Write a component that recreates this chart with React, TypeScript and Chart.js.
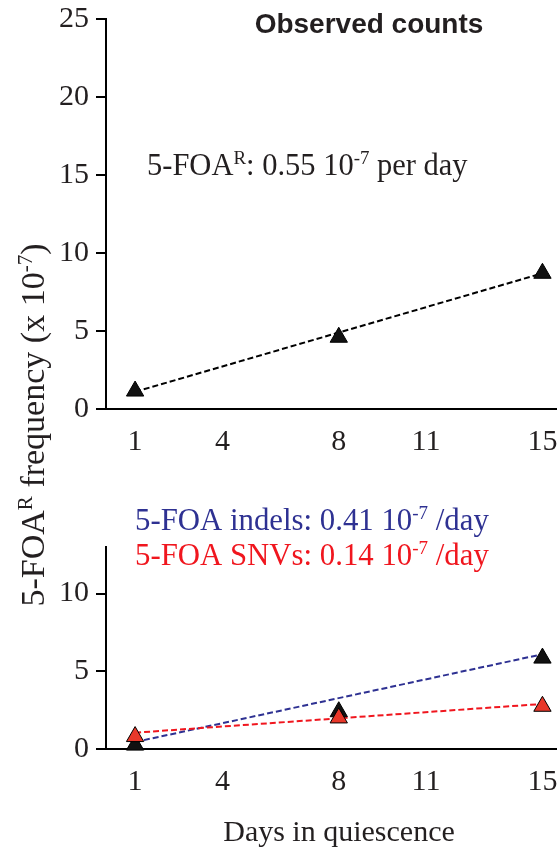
import React, { useEffect, useRef } from "react";
import { Chart, registerables } from "chart.js";

Chart.register(...registerables);

// ---- data ----
const days = [1, 8, 15];
const fitDays = [1, 15];
const xTickValues = [1, 4, 8, 11, 15];
const topYTickValues = [0, 5, 10, 15, 20, 25];
const bottomYTickValues = [0, 5, 10];

const observedCounts = [1.15, 4.6, 8.7];
const observedFit = [1.1, 8.7];

const indelCounts = [0.25, 2.4, 5.85];
const indelFit = [0.45, 6.1];
const snvCounts = [0.8, 2.0, 2.75];
const snvFit = [1.05, 2.9];

// ---- text ----
type Seg = { t: string; sup?: boolean };
const panelTitle = "Observed counts";
const observedRateLabel: Seg[] = [
  { t: "5-FOA" }, { t: "R", sup: true }, { t: ": 0.55 10" }, { t: "-7", sup: true }, { t: " per day" },
];
const indelRateLabel: Seg[] = [
  { t: "5-FOA indels: 0.41 10" }, { t: "-7", sup: true }, { t: " /day" },
];
const snvRateLabel: Seg[] = [
  { t: "5-FOA SNVs: 0.14 10" }, { t: "-7", sup: true }, { t: " /day" },
];
const yTitle: Seg[] = [
  { t: "5-FOA" }, { t: "R", sup: true }, { t: " frequency (x 10" }, { t: "-7", sup: true }, { t: ")" },
];
const xTitle = "Days in quiescence";

const SERIF = "'Liberation Serif', 'Times New Roman', serif";
const SANS = "'Liberation Sans', Arial, sans-serif";
const TEXT = "#231f20";
const NAVY = "#2e3192";
const RED = "#f0161e";
const RED_FILL = "#e8382a";

const W = 557;
const H = 849;

function measureRich(ctx: CanvasRenderingContext2D, segs: Seg[], size: number, family: string, weight = "normal") {
  let w = 0;
  for (const s of segs) {
    const fs = s.sup ? size * 0.62 : size;
    ctx.font = `${weight} ${fs}px ${family}`;
    w += ctx.measureText(s.t).width;
  }
  return w;
}

function drawRich(
  ctx: CanvasRenderingContext2D, segs: Seg[], x: number, y: number,
  size: number, family: string, color: string, weight = "normal"
) {
  ctx.save();
  ctx.fillStyle = color;
  ctx.textAlign = "left";
  ctx.textBaseline = "alphabetic";
  let cx = x;
  for (const s of segs) {
    const fs = s.sup ? size * 0.62 : size;
    ctx.font = `${weight} ${fs}px ${family}`;
    ctx.fillText(s.t, cx, s.sup ? y - size * 0.36 : y);
    cx += ctx.measureText(s.t).width;
  }
  ctx.restore();
}

const pts = (xs: number[], ys: number[]) => xs.map((x, i) => ({ x, y: ys[i] }));

function xScale(height: number) {
  return {
    type: "linear" as const,
    min: 0,
    max: 15.5,
    afterBuildTicks: (s: any) => { s.ticks = xTickValues.map((v) => ({ value: v })); },
    afterFit: (s: any) => { s.height = height; s.paddingLeft = 0; s.paddingRight = 0; },
    ticks: { font: { family: SERIF, size: 30 }, color: TEXT, padding: 15, maxRotation: 0, autoSkip: false },
    grid: { display: false, drawTicks: false },
    border: { display: true, color: "#000", width: 2 },
  };
}

function yScale(max: number, tickValues: number[]) {
  return {
    type: "linear" as const,
    min: 0,
    max,
    afterBuildTicks: (s: any) => { s.ticks = tickValues.map((v) => ({ value: v })); },
    afterFit: (s: any) => { s.width = 106; s.paddingTop = 0; s.paddingBottom = 0; },
    ticks: { font: { family: SERIF, size: 30 }, color: TEXT, padding: 7 },
    grid: { drawOnChartArea: false, drawTicks: true, tickLength: 10, color: "#000", lineWidth: 2 },
    border: { display: true, color: "#000", width: 2 },
  };
}

const triangle = (fill: string) => ({
  showLine: false,
  pointStyle: "triangle" as const,
  pointRadius: 10,
  pointBackgroundColor: fill,
  pointBorderColor: "#000",
  pointBorderWidth: 1,
  backgroundColor: fill,
  borderColor: "#000",
  clip: false as const,
});

const dashed = (color: string) => ({
  showLine: true,
  borderColor: color,
  borderWidth: 2,
  borderDash: [6, 3],
  pointRadius: 0,
  fill: false,
  clip: false as const,
});

export default function App() {
  const topRef = useRef<HTMLCanvasElement>(null);
  const botRef = useRef<HTMLCanvasElement>(null);

  useEffect(() => {
    document.body.style.margin = "0";
    const topChart = new Chart(topRef.current!, {
      type: "scatter",
      data: {
        datasets: [
          { data: pts(days, observedCounts), ...triangle("#111") },
          { data: pts(fitDays, observedFit), ...dashed("#000") },
        ],
      },
      options: {
        animation: false,
        responsive: false,
        devicePixelRatio: 1,
        events: [],
        layout: { autoPadding: false, padding: { top: 19, left: 0, right: 0, bottom: 0 } },
        plugins: { legend: { display: false }, tooltip: { enabled: false } },
        scales: { x: xScale(H - 409), y: yScale(25, topYTickValues) } as any,
      },
      plugins: [
        {
          id: "topText",
          afterDraw(chart: any) {
            const ctx = chart.ctx as CanvasRenderingContext2D;
            ctx.save();
            ctx.font = `bold 28px ${SANS}`;
            ctx.fillStyle = TEXT;
            ctx.textAlign = "center";
            ctx.textBaseline = "alphabetic";
            ctx.fillText(panelTitle, 369, 33);
            ctx.restore();
            drawRich(ctx, observedRateLabel, 147, 175, 30.5, SERIF, TEXT);
            // y title, rotated
            const size = 34;
            const w = measureRich(ctx, yTitle, size, SERIF);
            ctx.save();
            ctx.translate(44, 425);
            ctx.rotate(-Math.PI / 2);
            drawRich(ctx, yTitle, -w / 2, 0, size, SERIF, TEXT);
            ctx.restore();
          },
        },
      ],
    });

    const botChart = new Chart(botRef.current!, {
      type: "scatter",
      data: {
        datasets: [
          { data: pts(days, snvCounts), ...triangle(RED_FILL) },
          { data: pts(days, indelCounts), ...triangle("#111") },
          { data: pts(fitDays, snvFit), ...dashed(RED) },
          { data: pts(fitDays, indelFit), ...dashed(NAVY) },
        ],
      },
      options: {
        animation: false,
        responsive: false,
        devicePixelRatio: 1,
        events: [],
        layout: { autoPadding: false, padding: { top: 547, left: 0, right: 0, bottom: 0 } },
        plugins: { legend: { display: false }, tooltip: { enabled: false } },
        scales: { x: xScale(H - 749), y: yScale(13, bottomYTickValues) } as any,
      },
      plugins: [
        {
          id: "botText",
          afterDraw(chart: any) {
            const ctx = chart.ctx as CanvasRenderingContext2D;
            drawRich(ctx, indelRateLabel, 135, 530, 30.8, SERIF, NAVY);
            drawRich(ctx, snvRateLabel, 135, 565, 30.8, SERIF, RED);
            ctx.save();
            ctx.font = `30px ${SERIF}`;
            ctx.fillStyle = TEXT;
            ctx.textAlign = "center";
            ctx.textBaseline = "alphabetic";
            ctx.fillText(xTitle, 339, 841);
            ctx.restore();
          },
        },
      ],
    });

    return () => {
      topChart.destroy();
      botChart.destroy();
    };
  }, []);

  return (
    <div style={{ position: "absolute", left: 0, top: 0, width: W, height: H, background: "#fff" }}>
      <canvas ref={topRef} width={W} height={H} style={{ position: "absolute", left: 0, top: 0 }} />
      <canvas ref={botRef} width={W} height={H} style={{ position: "absolute", left: 0, top: 0 }} />
    </div>
  );
}
